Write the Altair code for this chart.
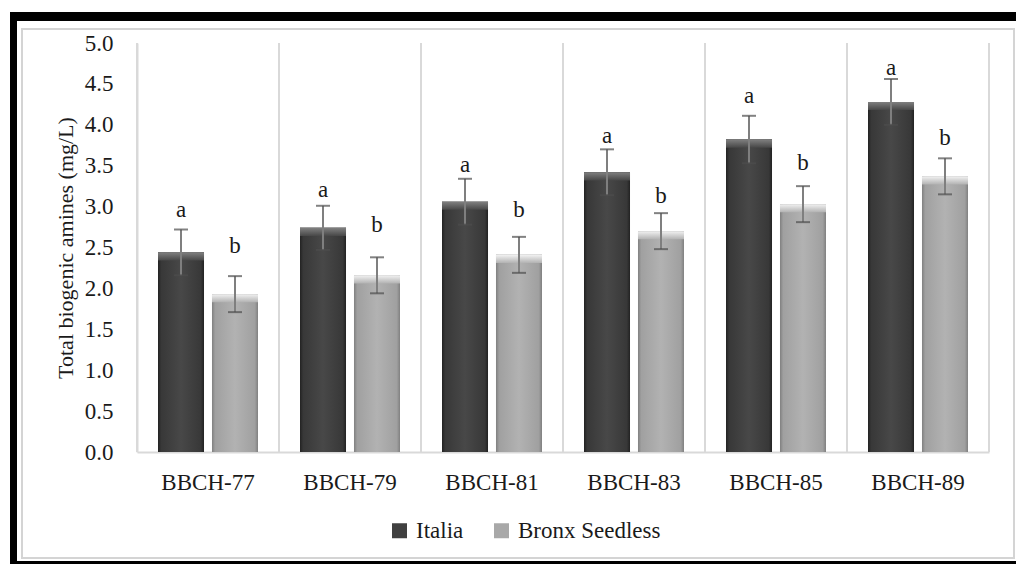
import altair as alt
import pandas as pd

stages = ["BBCH-77", "BBCH-79", "BBCH-81", "BBCH-83", "BBCH-85", "BBCH-89"]
cultivars = ["Italia", "Bronx Seedless"]
italia = [2.44, 2.74, 3.06, 3.42, 3.82, 4.28]
italia_err = [0.28, 0.27, 0.28, 0.28, 0.29, 0.28]
bronx = [1.93, 2.16, 2.41, 2.70, 3.03, 3.37]
bronx_err = [0.22, 0.22, 0.22, 0.22, 0.22, 0.22]
italia_letters = ["a", "a", "a", "a", "a", "a"]
bronx_letters = ["b", "b", "b", "b", "b", "b"]
italia_label_y = [2.96, 3.20, 3.51, 3.86, 4.35, 4.69]
bronx_label_y = [2.52, 2.78, 2.96, 3.13, 3.53, 3.84]

rows = []
for i, s in enumerate(stages):
    rows.append(dict(stage=s, cultivar="Italia", value=italia[i], err=italia_err[i],
                     letter=italia_letters[i], label_y=italia_label_y[i]))
    rows.append(dict(stage=s, cultivar="Bronx Seedless", value=bronx[i], err=bronx_err[i],
                     letter=bronx_letters[i], label_y=bronx_label_y[i]))
df = pd.DataFrame(rows)

FONT = "Liberation Serif"
GRID = "#d9d9d9"
W, H = 852, 409

x_enc = alt.X("stage:N", sort=stages,
              scale=alt.Scale(paddingInner=0, paddingOuter=0),
              axis=alt.Axis(title=None, labelAngle=0, ticks=False, domain=True,
                            domainColor=GRID, domainWidth=2, labelFont=FONT,
                            labelFontSize=23, labelColor="#1a1a1a", labelPadding=19,
                            grid=False))
xo_enc = alt.XOffset("cultivar:N", sort=cultivars,
                     scale=alt.Scale(paddingInner=0.148, paddingOuter=0.389))
y_scale = alt.Scale(domain=[0, 5], nice=False)

base = alt.Chart(df).transform_calculate(
    lo="datum.value - datum.err", hi="datum.value + datum.err",
    bevel="datum.value - 0.1")

# Base bars carry the axes and the legend
bars = base.mark_bar().encode(
    x=x_enc, xOffset=xo_enc,
    y=alt.Y("value:Q", scale=y_scale,
            axis=alt.Axis(title="Total biogenic amines (mg/L)", values=[0, 0.5, 1, 1.5, 2, 2.5, 3, 3.5, 4, 4.5, 5],
                          format=".1f", ticks=False, domain=True, domainColor=GRID,
                          domainWidth=2, grid=False, labelFont=FONT, labelFontSize=23,
                          labelColor="#1a1a1a", labelPadding=24, titleFont=FONT,
                          titleFontSize=22, titleFontWeight="normal", titleColor="#1a1a1a",
                          titlePadding=7)),
    color=alt.Color("cultivar:N", sort=cultivars,
                    scale=alt.Scale(domain=cultivars, range=["#404040", "#a8a8a8"]),
                    legend=alt.Legend(title=None, orient="none", direction="horizontal",
                                      legendX=251, legendY=476, symbolType="square",
                                      symbolSize=225, symbolStrokeWidth=0,
                                      labelFont=FONT, labelFontSize=23, labelColor="#1a1a1a",
                                      columnPadding=26, labelOffset=5)),
)


def grad(stops, horizontal=True):
    return alt.LinearGradient(
        gradient="linear",
        stops=[alt.GradientStop(color=c, offset=o) for o, c in stops],
        x1=0, x2=1 if horizontal else 0, y1=0, y2=0 if horizontal else 1)


it_grad = grad([(0, "#222222"), (0.07, "#383838"), (0.5, "#484848"), (0.93, "#383838"), (1, "#222222")])
br_grad = grad([(0, "#808080"), (0.07, "#a0a0a0"), (0.5, "#b2b2b2"), (0.93, "#a0a0a0"), (1, "#808080")])
it_top = grad([(0, "#808080"), (1, "#474747")], horizontal=False)
br_top = grad([(0, "#f2f2f2"), (1, "#b2b2b2")], horizontal=False)

enc_common = dict(x=alt.X("stage:N", sort=stages), xOffset=alt.XOffset("cultivar:N", sort=cultivars))

it_bars = base.transform_filter("datum.cultivar == 'Italia'").mark_bar(color=it_grad).encode(
    y=alt.Y("value:Q", scale=y_scale), **enc_common)
br_bars = base.transform_filter("datum.cultivar == 'Bronx Seedless'").mark_bar(color=br_grad).encode(
    y=alt.Y("value:Q", scale=y_scale), **enc_common)
it_bev = base.transform_filter("datum.cultivar == 'Italia'").mark_bar(color=it_top).encode(
    y=alt.Y("value:Q", scale=y_scale), y2="bevel:Q", **enc_common)
br_bev = base.transform_filter("datum.cultivar == 'Bronx Seedless'").mark_bar(color=br_top).encode(
    y=alt.Y("value:Q", scale=y_scale), y2="bevel:Q", **enc_common)

err_rule = base.mark_rule(color="#7f7f7f", strokeWidth=2).encode(
    y=alt.Y("lo:Q", scale=y_scale), y2="hi:Q", **enc_common)
cap_hi = base.mark_tick(color="#4d4d4d", size=14, thickness=2).encode(
    y=alt.Y("hi:Q", scale=y_scale), **enc_common)
cap_lo = base.mark_tick(color="#4d4d4d", size=14, thickness=2).encode(
    y=alt.Y("lo:Q", scale=y_scale), **enc_common)

letters = base.mark_text(font=FONT, fontSize=23, color="#1a1a1a", baseline="middle").encode(
    y=alt.Y("label_y:Q", scale=y_scale), text="letter:N", **enc_common)

stage_df = pd.DataFrame({"stage": stages})
seps = alt.Chart(stage_df).mark_rule(color=GRID, strokeWidth=2).encode(
    x=alt.X("stage:N", sort=stages), xOffset=alt.value(0))
right_sep = alt.Chart(stage_df.head(1)).mark_rule(color=GRID, strokeWidth=2).encode(
    x=alt.value(W), y=alt.value(0), y2=alt.value(H))

one = alt.Data(values=[{"k": 1}])
frame_inner = alt.Chart(one).mark_rect(fill="white", fillOpacity=0, stroke="#d4d4d4", strokeWidth=2).encode(
    x=alt.value(-115), x2=alt.value(877), y=alt.value(-14), y2=alt.value(515))
frame_top = alt.Chart(one).mark_rect(color="black").encode(
    x=alt.value(-127), x2=alt.value(879), y=alt.value(-31), y2=alt.value(-22))
frame_left = alt.Chart(one).mark_rect(color="black").encode(
    x=alt.value(-127), x2=alt.value(-120), y=alt.value(-31), y2=alt.value(521))
frame_bottom = alt.Chart(one).mark_rect(color="black").encode(
    x=alt.value(-127), x2=alt.value(879), y=alt.value(518), y2=alt.value(521))

chart = alt.layer(
    bars, frame_inner, frame_top, frame_left, frame_bottom,
    seps, right_sep,
    it_bars, br_bars, it_bev, br_bev,
    err_rule, cap_hi, cap_lo, letters,
).properties(
    width=W, height=H,
    autosize=alt.AutoSizeParams(type="none"),
    padding={"left": 137, "top": 43, "right": 27, "bottom": 112},
    background="white",
).configure_view(stroke=None)

chart.save("out.html", embed_options={"renderer": "svg", "actions": False})
